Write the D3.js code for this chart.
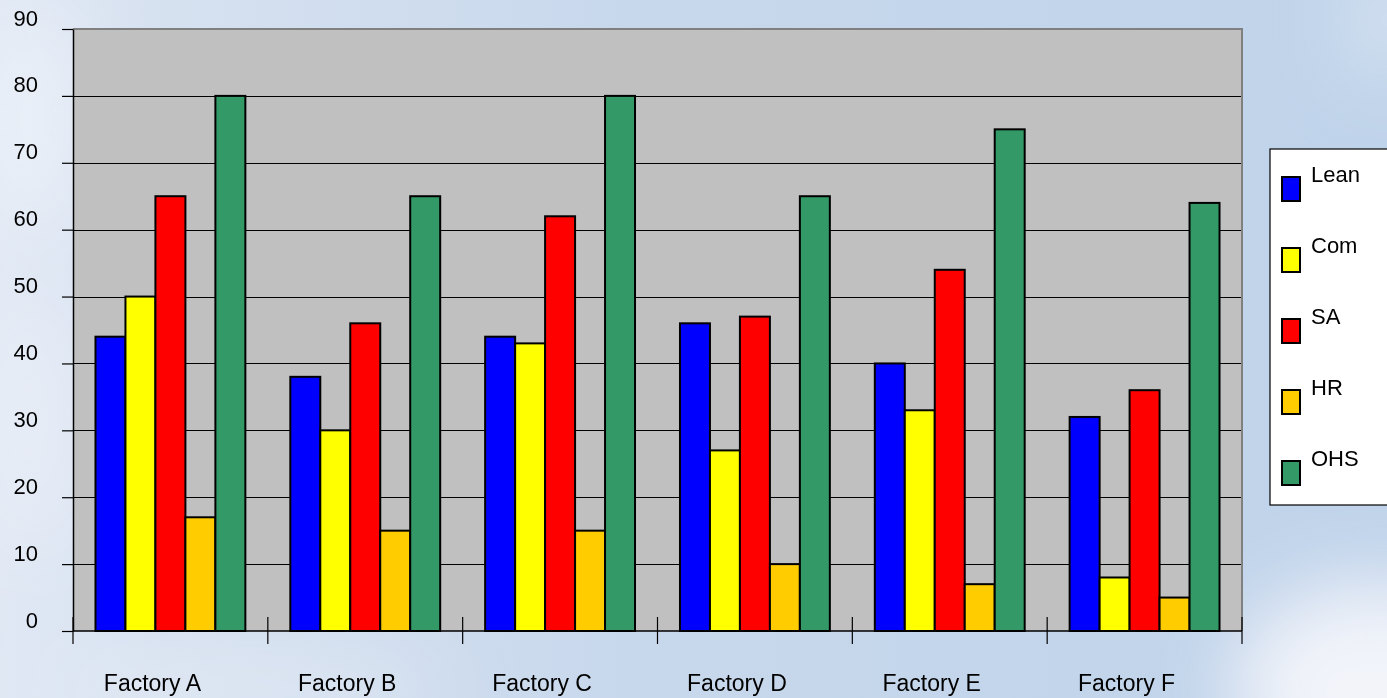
<!DOCTYPE html>
<html>
<head>
<meta charset="utf-8">
<script src="https://cdn.jsdelivr.net/npm/d3@7"></script>
<style>
html,body{margin:0;padding:0;overflow:hidden;background:#c3d5eb;}
svg{display:block;font-family:"Liberation Sans",Arial,sans-serif;}
</style>
</head>
<body>
<svg id="chart" width="1387" height="698"></svg>
<script>
const categories = ["Factory A","Factory B","Factory C","Factory D","Factory E","Factory F"];
const seriesNames = ["Lean","Com","SA","HR","OHS"];
const lean = [44,38,44,46,40,32];
const com  = [50,30,43,27,33,8];
const sa   = [65,46,62,47,54,36];
const hr   = [17,15,15,10,7,5];
const ohs  = [80,65,80,65,75,64];
const yTickValues = [0,10,20,30,40,50,60,70,80,90];
const seriesColors = ["#0000FF","#FFFF00","#FF0000","#FFCC00","#339966"];

const seriesValues = [lean, com, sa, hr, ohs];

const W = 1387, H = 698;
const svg = d3.select("#chart");
const defs = svg.append("defs");

// Background sky
const lg = defs.append("linearGradient").attr("id","bgGrad").attr("x1","0").attr("y1","0").attr("x2","1").attr("y2","0");
lg.append("stop").attr("offset","0").attr("stop-color","#e0e8f4");
lg.append("stop").attr("offset","0.12").attr("stop-color","#d6e1f0");
lg.append("stop").attr("offset","0.45").attr("stop-color","#c8d8ec");
lg.append("stop").attr("offset","1").attr("stop-color","#bfd3ea");
const blur = defs.append("filter").attr("id","blur").attr("x","-50%").attr("y","-50%").attr("width","200%").attr("height","200%");
blur.append("feGaussianBlur").attr("stdDeviation", 40);

svg.append("rect").attr("width",W).attr("height",H).attr("fill","url(#bgGrad)");
const clouds = svg.append("g").attr("filter","url(#blur)").attr("fill","#f4f6fb");
clouds.append("ellipse").attr("cx",1380).attr("cy",690).attr("rx",150).attr("ry",110).attr("opacity",0.95);
clouds.append("ellipse").attr("cx",30).attr("cy",120).attr("rx",50).attr("ry",120).attr("opacity",0.6);
clouds.append("ellipse").attr("cx",30).attr("cy",420).attr("rx",45).attr("ry",140).attr("opacity",0.5);
clouds.append("ellipse").attr("cx",1387).attr("cy",20).attr("rx",40).attr("ry",60).attr("opacity",0.5);
clouds.append("ellipse").attr("cx",250).attr("cy",690).attr("rx",200).attr("ry",30).attr("opacity",0.45);

// Plot area
const pLeft = 73, pRight = 1242, pTop = 29, pBottom = 631;

const x = d3.scaleBand().domain(categories).range([pLeft, pRight]).padding(0);
const xs = d3.scaleBand().domain(seriesNames).range([0, x.bandwidth()]).paddingInner(0).paddingOuter(0.75);
const y = d3.scaleLinear().domain([0, 90]).range([pBottom, pTop]);

svg.append("rect").attr("x",pLeft).attr("y",pTop).attr("width",pRight-pLeft).attr("height",pBottom-pTop).attr("fill","#C0C0C0");

// gridlines
svg.append("g").selectAll("line").data(yTickValues.filter(v => v > 0 && v < 90)).join("line")
  .attr("x1", pLeft).attr("x2", pRight)
  .attr("y1", d => Math.round(y(d)) + 0.5).attr("y2", d => Math.round(y(d)) + 0.5)
  .attr("stroke","#000").attr("stroke-width",1);

// plot border top/right
svg.append("path")
  .attr("d", `M${pLeft},${pTop} H${pRight} V${pBottom}`)
  .attr("fill","none").attr("stroke","#808080").attr("stroke-width",2);

// bars
const groups = svg.append("g").selectAll("g").data(categories).join("g")
  .attr("transform", d => `translate(${x(d)},0)`);
groups.selectAll("rect").data((c, i) => seriesNames.map((s, j) => ({s, v: seriesValues[j][i], j}))).join("rect")
  .attr("x", d => xs(d.s))
  .attr("y", d => y(d.v))
  .attr("width", xs.bandwidth())
  .attr("height", d => y(0) - y(d.v))
  .attr("fill", d => seriesColors[d.j])
  .attr("stroke","#000").attr("stroke-width",2);

// y axis
const yAxis = d3.axisLeft(y).tickValues(yTickValues).tickSize(11).tickSizeOuter(0);
const yg = svg.append("g").attr("transform",`translate(${pLeft},0)`).call(yAxis);
yg.select(".domain").attr("stroke","#000").attr("stroke-width",1.5);
yg.selectAll(".tick line").attr("stroke","#000").attr("stroke-width",1.2);
yg.selectAll(".tick text")
  .attr("x",-35).attr("dy","-4px")
  .attr("font-size","22px").attr("fill","#000")
  .attr("font-family","'Liberation Sans',Arial,sans-serif");

// x axis
svg.append("line").attr("x1",pLeft).attr("x2",pRight).attr("y1",pBottom).attr("y2",pBottom)
  .attr("stroke","#000").attr("stroke-width",1.5);
const boundaries = categories.map(c => x(c)).concat([x.range()[1]]);
svg.append("g").selectAll("line").data(boundaries).join("line")
  .attr("x1", d => d).attr("x2", d => d)
  .attr("y1", pBottom - 14).attr("y2", pBottom + 13)
  .attr("stroke","#000").attr("stroke-width",1.2);
svg.append("g").selectAll("text").data(categories).join("text")
  .attr("x", d => x(d) + x.bandwidth()/2 - 18)
  .attr("y", 691)
  .attr("text-anchor","middle")
  .attr("font-size","23px").attr("fill","#000")
  .text(d => d);

// legend
const lgX = 1270, lgY = 149;
svg.append("rect").attr("x",lgX).attr("y",lgY).attr("width",140).attr("height",356)
  .attr("fill","#fff").attr("stroke","#000").attr("stroke-width",1.2);
const items = svg.append("g").selectAll("g").data(seriesNames).join("g")
  .attr("transform",(d,i) => `translate(0,${i*71})`);
items.append("rect").attr("x",1282).attr("y",177).attr("width",18).attr("height",24)
  .attr("fill",(d,i) => seriesColors[i]).attr("stroke","#000").attr("stroke-width",2);
items.append("text").attr("x",1311).attr("y",182)
  .attr("font-size","22px").attr("fill","#000").text(d => d);
</script>
</body>
</html>
